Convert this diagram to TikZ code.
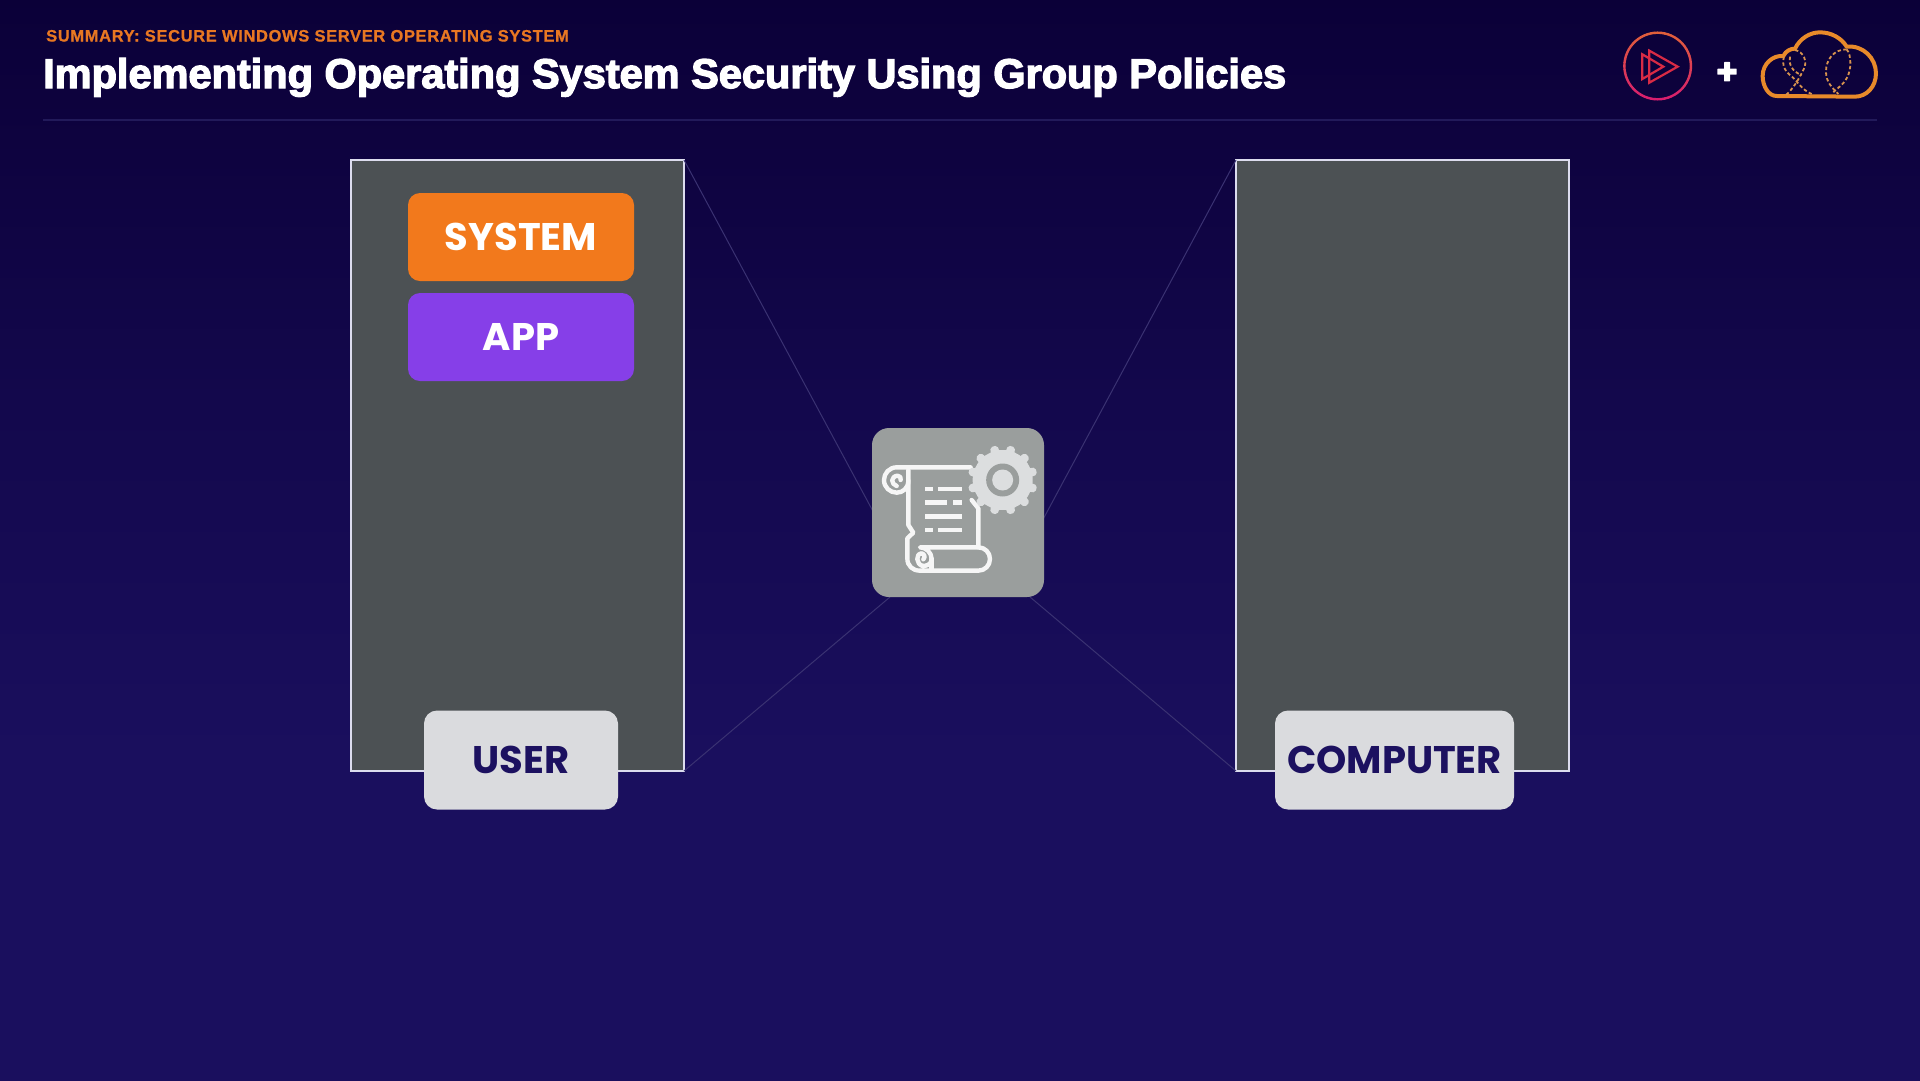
\documentclass[tikz,border=0pt]{standalone}
\usepackage{fontspec}
\setmainfont{Liberation Sans}
\newfontfamily\popfont{Poppins}[BoldFont={Poppins Bold}]
\newfontfamily\titlefont{Liberation Sans Bold}[FakeBold=3.2]
\newfontfamily\subfont{Liberation Sans Bold}[FakeBold=0.8,LetterSpace=3.9]
\usetikzlibrary{calc}
\definecolor{bgtop}{HTML}{0B0038}
\definecolor{bgbot}{HTML}{1A0F5E}
\definecolor{panelfill}{HTML}{4C5154}
\definecolor{panelline}{HTML}{DCDCEE}
\definecolor{orangebox}{HTML}{F2791C}
\definecolor{purplebox}{HTML}{863FE8}
\definecolor{labelbox}{HTML}{DADBDE}
\definecolor{navytext}{HTML}{1C1160}
\definecolor{subtitle}{HTML}{E87722}
\definecolor{rulecol}{HTML}{221A5A}
\definecolor{linkcol}{HTML}{3A3272}
\definecolor{iconbox}{HTML}{9A9E9D}
\definecolor{gearcol}{HTML}{DCDEDF}
\definecolor{scrollcol}{HTML}{F6F6F6}
\definecolor{cloudcol}{HTML}{E88A2A}
\definecolor{clouddash}{HTML}{D8934E}
\definecolor{playcol}{HTML}{D92B45}
\definecolor{ringtop}{HTML}{E0603A}
\definecolor{ringbot}{HTML}{D81E6E}
\tikzset{
  panel/.style={draw=panelline,line width=1.5pt,fill=panelfill,minimum width=333pt,minimum height=611pt,inner sep=0pt,outer sep=0pt},
  tagbox/.style={rounded corners=12pt,minimum height=88pt,minimum width=226pt,inner sep=0pt,text=white,font=\popfont\bfseries\fontsize{38.5}{42}\selectfont},
  labelnode/.style={fill=labelbox,rounded corners=13pt,minimum height=99pt,inner sep=0pt,text=navytext,font=\popfont\bfseries\fontsize{38.5}{42}\selectfont},
  link/.style={draw=linkcol,line width=1pt},
  scrollline/.style={draw=scrollcol,line width=4.4pt,line join=round,line cap=round},
  scrolltext/.style={draw=scrollcol,line width=4.8pt},
  cloudline/.style={draw=cloudcol,line width=4pt,line join=round},
  clouddashed/.style={draw=clouddash,line width=1.8pt,dash pattern=on 3.4pt off 2.4pt},
  playline/.style={draw=playcol,line width=2.2pt,line join=miter},
}
\begin{document}
\begin{tikzpicture}[x=1pt,y=-1pt]
\useasboundingbox (0,0) rectangle (1920,1080);
% background
\shade[top color=bgtop,bottom color=bgbot] (-2,-2) rectangle (1922,760);
\fill[bgbot] (-2,759) rectangle (1922,1082);
% header
\node[anchor=base west,inner sep=0pt,text=subtitle] (sub) at (46,41.5) {\subfont\fontsize{16.5}{18}\selectfont SUMMARY: SECURE WINDOWS SERVER OPERATING SYSTEM};
\node[anchor=base west,inner sep=0pt,text=white] (title) at (43,88) {\titlefont\fontsize{41.5}{46}\selectfont Implementing Operating System Security Using Group Policies};
\coordinate (ruleA) at (43,120);
\coordinate (ruleB) at (1877,120);
\draw[rulecol,line width=1.8pt] (ruleA) -- (ruleB);
% panels and links
\node[panel] (userpanel) at (517.5,465.5) {};
\node[panel] (comppanel) at (1402.5,465.5) {};
\coordinate (la) at (875,515);
\coordinate (lb) at (890,597);
\coordinate (lc) at (1040,525);
\coordinate (ld) at (1030,597);
\draw[link] (userpanel.north east) -- (la);
\draw[link] (userpanel.south east) -- (lb);
\draw[link] (comppanel.north west) -- (lc);
\draw[link] (comppanel.south west) -- (ld);
\node[fill=iconbox,rounded corners=17pt,minimum width=172pt,minimum height=169pt,inner sep=0pt] (icon) at (958,512.5) {};
% boxes
\node[tagbox,fill=orangebox] (system) at (521,237) {SYSTEM};
\node[tagbox,fill=purplebox] (app) at (521,337) {APP};
\node[labelnode,minimum width=194pt] (user) at (521,760) {USER};
\node[labelnode,minimum width=239pt] (computer) at (1394.5,760) {COMPUTER};
% scroll icon
\begin{scope}[shift={(850,410)},x=0.3333pt,y=-0.3333pt]
\draw[scrollline] (362,172) -- (140,172) .. controls (118,172) and (102,190) .. (102,210) .. controls (102,232) and (120,248) .. (140,248) .. controls (158,248) and (175,235) .. (175,212);
\draw[scrollline] (140,228) .. controls (122,222) and (122,200) .. (142,197) .. controls (150,197) and (155,204) .. (152,210);
\draw[scrollline] (175,180) -- (175,345) -- (190,368) -- (172,385) -- (172,445) .. controls (172,468) and (188,482) .. (210,482) -- (385,482) .. controls (405,482) and (420,466) .. (420,447) .. controls (420,428) and (405,412) .. (385,412) -- (210,412) .. controls (228,412) and (245,428) .. (245,447) .. controls (245,462) and (232,468) .. (218,468);
\draw[scrollline] (218,468) .. controls (198,462) and (196,432) .. (215,430) .. controls (224,432) and (226,442) .. (220,448);
\draw[scrollline] (245,447) -- (245,480);
\draw[scrollline] (365,270) -- (385,295) -- (385,412);
\draw[scrolltext] (225,237) -- (248,237) (265,237) -- (335,237);
\draw[scrolltext] (225,278) -- (292,278) (310,278) -- (335,278);
\draw[scrolltext] (225,319) -- (335,319);
\draw[scrolltext] (225,360) -- (248,360) (265,360) -- (335,360);
% gear
\coordinate (gc) at (458,210);
\foreach \a in {0,30,...,330} {
  \fill[gearcol,rounded corners=2pt] ($(gc)+(\a+15-6:35pt)$) -- ($(gc)+(\a+15+6:35pt)$) -- ($(gc)+(\a+15+10:27pt)$) -- ($(gc)+(\a+15-10:27pt)$) -- cycle;
}
\fill[gearcol] (gc) circle[radius=30pt];
\fill[iconbox] (gc) circle[radius=16.5pt];
\fill[gearcol] (gc) circle[radius=10.5pt];
\end{scope}
% logos
\begin{scope}[shift={(1580,0)},x=0.3333pt,y=-0.3333pt]
\coordinate (pc) at (233,198);
\foreach \i in {0,...,59} {
  \pgfmathsetmacro{\mixv}{50-50*sin(\i*6+3)}
  \colorlet{ringc}{ringbot!\mixv!ringtop}
  \draw[ringc,line width=2.4pt,line cap=round] ($(pc)+(\i*6:33.3pt)$) -- ($(pc)+(\i*6+6:33.3pt)$);
}
\draw[playline] (208,152) -- (208,248) -- (293,200) -- cycle;
\draw[playline] (187,163) -- (187,237) -- (250,200) -- cycle;
% plus
\coordinate (pl) at (441,215);
\fill[white,rounded corners=0.5pt] ($(pl)+(-29,-9)$) rectangle ($(pl)+(29,9)$);
\fill[white,rounded corners=0.5pt] ($(pl)+(-9,-29)$) rectangle ($(pl)+(9,29)$);
% cloud
\draw[cloudline] (590,288) .. controls (565,288) and (548,258) .. (548,228) .. controls (548,190) and (580,165) .. (610,168) .. controls (618,152) and (632,146) .. (645,146) .. controls (660,115) and (690,97) .. (720,97) .. controls (755,97) and (785,115) .. (800,140) .. controls (850,135) and (888,175) .. (888,220) .. controls (888,260) and (860,290) .. (825,290) -- cycle;
\draw[clouddashed] (612,170) .. controls (605,195) and (615,215) .. (630,225) .. controls (650,240) and (665,270) .. (695,282);
\draw[clouddashed] (645,150) .. controls (670,155) and (685,185) .. (670,210) .. controls (655,240) and (640,265) .. (618,285);
\draw[clouddashed] (630,170) .. controls (625,190) and (635,215) .. (665,225);
\draw[clouddashed] (800,148) .. controls (760,148) and (738,180) .. (738,215) .. controls (738,245) and (755,262) .. (775,282);
\draw[clouddashed] (800,148) .. controls (815,165) and (815,210) .. (800,235) .. controls (790,255) and (770,265) .. (755,282);
\end{scope}
\end{tikzpicture}
\end{document}
